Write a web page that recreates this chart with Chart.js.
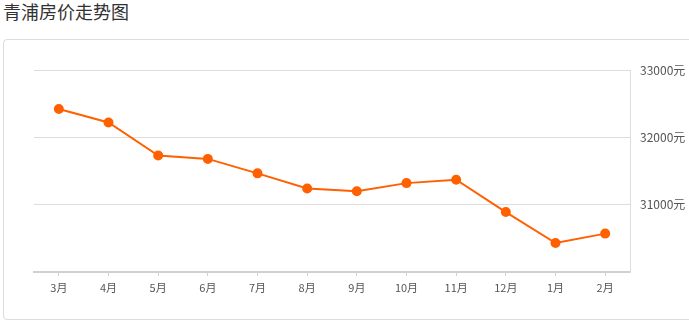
<!DOCTYPE html>
<html>
<head>
<meta charset="utf-8">
<script src="https://cdn.jsdelivr.net/npm/chart.js@4/dist/chart.umd.min.js"></script>
<style>
  html, body { margin: 0; padding: 0; background: #fff; overflow: hidden; }
  body { width: 689px; height: 324px; position: relative; font-family: "Noto Sans CJK SC", sans-serif; }
  #title { position: absolute; left: 3px; top: -1px; font-size: 18px; color: #333; line-height: 24px; }
  #box { position: absolute; left: 3px; top: 39px; width: 720px; height: 281px; box-sizing: border-box;
         border: 1px solid #dcdcdc; border-radius: 4px; }
  #wrap { position: absolute; left: 0; top: 0; width: 689px; height: 324px; }
</style>
</head>
<body>
<div id="title">青浦房价走势图</div>
<div id="box"></div>
<div id="wrap"><canvas id="priceChart"></canvas></div>
<script>
// months shown on the x axis
const months = ['3月', '4月', '5月', '6月', '7月', '8月', '9月', '10月', '11月', '12月', '1月', '2月'];
// average price, yuan per square metre
const prices = [32420, 32220, 31730, 31680, 31465, 31240, 31200, 31320, 31370, 30890, 30430, 30570];
const yMin = 30000;
const yMax = 33000;
const yStep = 1000;

const ctx = document.getElementById('priceChart').getContext('2d');
const chart = new Chart(ctx, {
    type: 'line',
    data: {
        labels: months,
        datasets: [{
            label: '青浦',
            data: prices,
            borderColor: '#ff6000',
            backgroundColor: '#ff6000',
            borderWidth: 2,
            pointRadius: 4,
            pointHoverRadius: 4,
            fill: false,
            tension: 0
        }]
    },
    options: {
        responsive: true,
        maintainAspectRatio: false,
        animation: false,
        layout: { padding: { left: 34, top: 70, right: 0, bottom: 0 } },
        plugins: { legend: { display: false }, tooltip: { enabled: false } },
        scales: {
            x: {
                offset: true,
                grid: { offset: false, drawOnChartArea: false, tickLength: 4, color: '#d0d0d0' },
                border: { color: '#d0d0d0', width: 2 },
                ticks: { color: '#555', padding: 5, font: { family: 'Noto Sans CJK SC', size: 11 } },
                afterFit: s => { s.height = 52; }
            },
            y: {
                position: 'right',
                min: yMin,
                max: yMax,
                grid: { color: '#dddddd', drawTicks: false },
                border: { color: '#dddddd', width: 1 },
                ticks: {
                    stepSize: yStep,
                    color: '#555',
                    padding: 10,
                    font: { family: 'Noto Sans CJK SC', size: 12 },
                    callback: v => v === yMin ? '' : v + '元'
                },
                afterFit: s => { s.width = 59; }
            }
        }
    }
});
</script>
</body>
</html>
